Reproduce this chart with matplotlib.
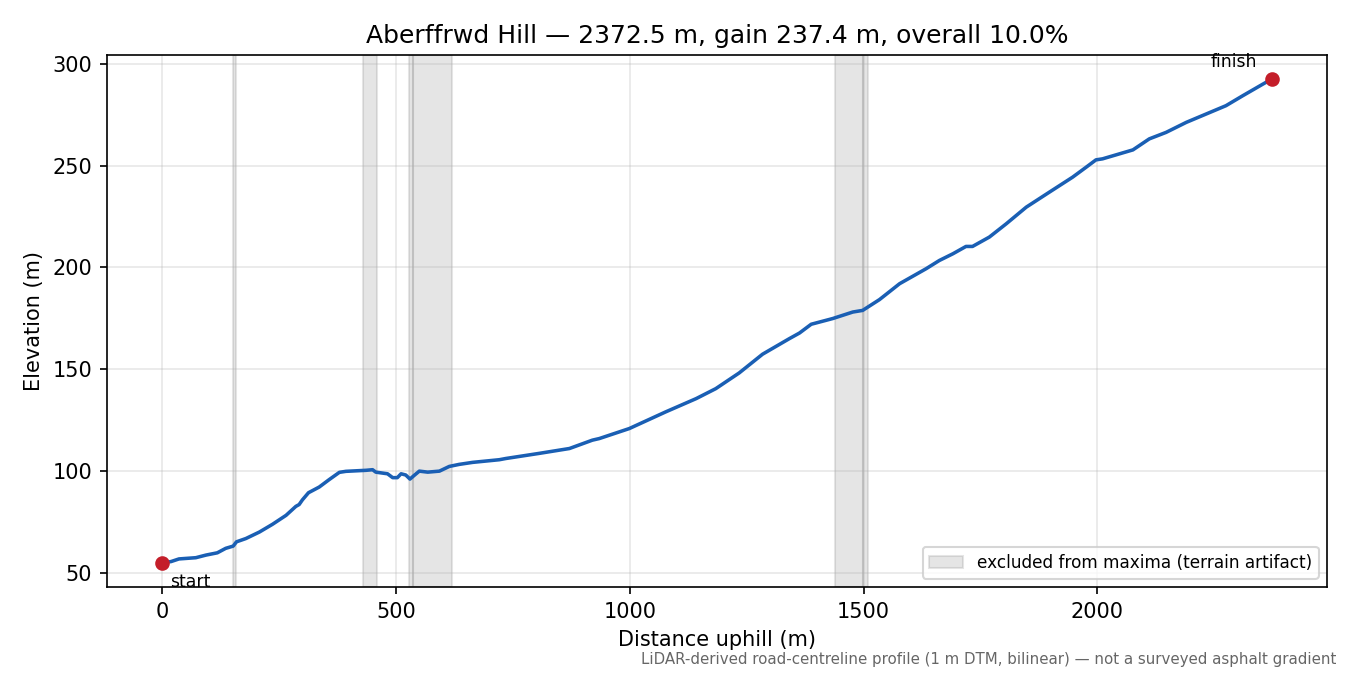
import numpy as np
import matplotlib
matplotlib.use('Agg')
import matplotlib.pyplot as plt

# profile (distance uphill in m, elevation in m)
dist = [0, 19, 36, 72, 94, 118, 136, 152, 159, 179, 208, 236, 265, 286, 293, 300,
        313, 336, 357, 379, 393, 436, 450, 457, 482, 493, 503, 511, 521, 530, 539,
        550, 568, 593, 614, 635, 664, 721, 735, 806, 871, 920, 935, 999, 1077, 1142,
        1184, 1234, 1284, 1341, 1363, 1388, 1434, 1477, 1498, 1534, 1577, 1634, 1662,
        1691, 1719, 1733, 1769, 1805, 1848, 1897, 1947, 1976, 1997, 2011, 2076, 2111,
        2147, 2190, 2275, 2311, 2354, 2372.5]
elev = [55.0, 55.6, 56.9, 57.5, 58.8, 59.9, 62.1, 63.2, 65.3, 66.9, 70.1, 73.9, 78.3,
        82.7, 83.6, 85.9, 89.4, 92.2, 95.8, 99.4, 99.9, 100.4, 100.7, 99.5, 98.7, 96.8,
        96.8, 98.7, 98.1, 96.1, 97.9, 100.0, 99.5, 100.0, 102.3, 103.3, 104.3, 105.6,
        106.2, 108.7, 111.1, 115.2, 116.0, 120.9, 129.1, 135.6, 140.5, 148.2, 157.4,
        165.0, 167.8, 172.1, 174.9, 178.1, 178.9, 184.2, 192.0, 199.4, 203.4, 206.7,
        210.3, 210.3, 214.9, 221.4, 229.6, 236.9, 244.3, 249.2, 252.8, 253.3, 257.7,
        263.1, 266.3, 271.2, 279.4, 284.3, 290.0, 292.4]

# spans excluded from maxima
excl_start = [152, 430, 528, 537, 1439, 1498]
excl_end = [158, 459, 537, 620, 1498, 1509]

title = 'Aberffrwd Hill \u2014 2372.5 m, gain 237.4 m, overall 10.0%'
note = 'LiDAR-derived road-centreline profile (1 m DTM, bilinear) \u2014 not a surveyed asphalt gradient'

fig, ax = plt.subplots(figsize=(9, 4.5), dpi=150)
fig.subplots_adjust(left=0.079, right=0.983, top=0.9185, bottom=0.1304)

for i, (a, b) in enumerate(zip(excl_start, excl_end)):
    ax.axvspan(a, b, color='grey', alpha=0.2,
               label='excluded from maxima (terrain artifact)' if i == 0 else None)

ax.plot(dist, elev, color='#1a5fb4', lw=1.7)
ax.plot([dist[0], dist[-1]], [elev[0], elev[-1]], 'o', color='#c41e2a', ms=6)
ax.annotate('start', (dist[0], elev[0]), xytext=(4, -5), textcoords='offset points',
            ha='left', va='top', fontsize=8.3)
ax.annotate('finish', (dist[-1], elev[-1]), xytext=(-7, 4), textcoords='offset points',
            ha='right', va='bottom', fontsize=8.3)

ax.grid(True, alpha=0.3)
ax.set_xlabel('Distance uphill (m)', fontsize=10)
ax.set_ylabel('Elevation (m)', fontsize=10)
ax.set_title(title, fontsize=12)
ax.tick_params(labelsize=10)
ax.legend(loc='lower right', fontsize=8.1)

fig.text(0.99, 0.012, note, ha='right', va='bottom', fontsize=7.2, color='0.4')

fig.savefig('out.png', dpi=150)
